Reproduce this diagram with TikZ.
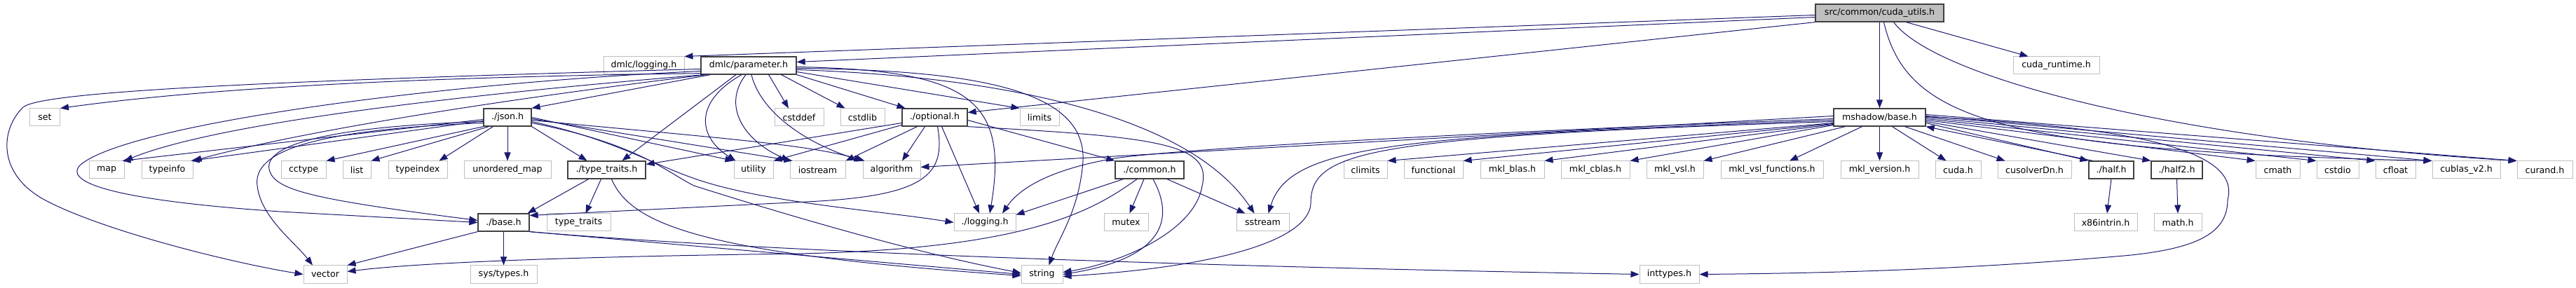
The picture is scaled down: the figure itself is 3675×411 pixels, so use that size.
\documentclass[tikz,border=0pt]{standalone}
\usepackage{fontspec}
\setmainfont{DejaVu Sans}
\usepackage{xcolor}
\usepackage{tikz}
\usetikzlibrary{arrows.meta}
\definecolor{dxEdge}{RGB}{25,25,112}
\definecolor{dxGray}{RGB}{191,191,191}
\definecolor{dxDark}{RGB}{64,64,64}

\begin{document}
\begin{tikzpicture}[
  x=1pt, y=-1pt,
  font=\fontsize{12.6}{15}\selectfont,
  sb/.style={draw=dxGray, line width=1pt, fill=white, minimum height=25pt, inner sep=1pt},
  ib/.style={sb, draw=dxDark, line width=1.3pt},
  rb/.style={ib, fill=dxGray},
  ar/.style={-{Triangle[length=12pt,width=9pt]}, draw=dxEdge, line width=1pt}
]
\useasboundingbox (0,0) rectangle (3675,411);

\node[rb, minimum width=183pt] (cu) at (2681.5,18.5) {src/common/cuda\_utils.h};
\foreach \nm/\cx/\bw/\cy/\lb in {param/1068/136/93.5/{dmlc/parameter.h},
    json/724/68/167.5/{./json.h}, optional/1333.5/93/167.5/{./optional.h},
    mshadow/2681.5/131/167.5/{mshadow/base.h}, tth/865.5/111/242.5/{./type\_traits.h},
    common/1640/98/242.5/{./common.h}, half/3012/64/242.5/{./half.h},
    half2/3105.5/73/242.5/{./half2.h}, dbase/718.5/73/317.5/{./base.h}}
  \node[ib, minimum width=\bw pt] (\nm) at (\cx,\cy) {\lb};
\foreach \nm/\cx/\bw/\cy/\lb in {dlog/918.5/115/93.5/{dmlc/logging.h},
    cudart/2933.5/123/93.5/{cuda\_runtime.h}, set/64/43/167.5/set,
    cstddef/1140/70/167.5/cstddef, cstdlib/1230.5/63/167.5/cstdlib,
    limits/1483/56/167.5/limits, map/152/50/242.5/map, typeinfo/238.5/73/242.5/typeinfo,
    cctype/433/64/242.5/cctype, list/509/40/242.5/list, typeindex/596/84/242.5/typeindex,
    umap/724/124/242.5/{unordered\_map}, utility/1075/56/242.5/utility,
    iostream/1166.5/79/242.5/iostream, algorithm/1272/82/242.5/algorithm,
    climits/1948/62/242.5/climits, functional/2045/84/242.5/functional,
    mklblas/2157.5/91/242.5/{mkl\_blas.h}, mklcblas/2276/98/242.5/{mkl\_cblas.h},
    mklvsl/2389.5/81/242.5/{mkl\_vsl.h}, mklvslf/2528/146/242.5/{mkl\_vsl\_functions.h},
    mklver/2681.5/111/242.5/{mkl\_version.h}, cuda/2793.5/65/242.5/{cuda.h},
    cusolver/2902.5/105/242.5/{cusolverDn.h}, cmath/3249.5/63/242.5/cmath,
    cstdio/3335/60/242.5/cstdio, cfloat/3417.5/57/242.5/cfloat,
    cublas/3518.5/97/242.5/{cublas\_v2.h}, curand/3630.5/79/242.5/{curand.h},
    tt/825.5/91/317.5/{type\_traits}, logging/1405/88/317.5/{./logging.h},
    mutex/1606.5/63/317.5/mutex, sstream/1801.5/75/317.5/sstream,
    x86/3004/90/317.5/{x86intrin.h}, mathh/3107/68/317.5/{math.h},
    vector/464/62/391.5/vector, systypes/718.5/95/391.5/{sys/types.h},
    string/1486.5/59/391.5/string, inttypes/2381.5/85/391.5/{inttypes.h}}
  \node[sb, minimum width=\bw pt] (\nm) at (\cx,\cy) {\lb};

% cuda_utils.h
\draw[ar] ([yshift=-3pt]cu.west) -- (dlog.north east);
\draw[ar] ([yshift=-6pt]cu.west) -- ([yshift=5pt]param.east);
\draw[ar] (cu.south west) -- ([yshift=7pt]optional.east);
\draw[ar] (cu.south) -- (mshadow.north);
\draw[ar] ([xshift=38pt]cu.south) -- ([xshift=-40pt]cudart.north);
\draw[ar] ([xshift=6pt]cu.south) .. controls (2720,170) and (2850,215) .. (cublas.north west);
\draw[ar] ([xshift=20pt]cu.south) .. controls (2760,110) and (3100,200) .. (curand.north west);

% dmlc/parameter.h
\draw[ar] ([yshift=2pt]param.south west) .. controls (600,110) and (300,125) .. (set.north east);
\draw[ar] ([xshift=4pt]param.south west) .. controls (600,140) and (300,180) .. (map.north east);
\draw[ar] ([xshift=8pt]param.south west) .. controls (650,150) and (400,195) .. (typeinfo.north east);
\draw[ar] ([xshift=14pt]param.south west) -- (json.north east);
\draw[ar] ([yshift=-5pt]param.west) .. controls (400,115) and (60,130) .. (33,153)
  .. controls (0,185) and (-5,250) .. (67,287) .. controls (150,330) and (330,375) .. (vector.west);
\draw[ar] ([yshift=-8pt]param.west) .. controls (600,120) and (180,180) .. (115,235)
  .. controls (90,258) and (150,285) .. (400,302) -- (dbase.west);
\draw[ar] ([xshift=-18pt]param.south) -- ([xshift=22pt]tth.north);
\draw[ar] ([xshift=-10pt]param.south) .. controls (990,145) and (995,195) .. ([xshift=3pt]utility.north west);
\draw[ar] ([xshift=-4pt]param.south) .. controls (1030,150) and (1060,200) .. (iostream.north west);
\draw[ar] ([xshift=4pt]param.south) .. controls (1085,160) and (1150,205) .. (algorithm.north west);
\draw[ar] ([xshift=-40pt]param.south east) -- ([xshift=-15pt]cstddef.north);
\draw[ar] ([xshift=-22pt]param.south east) -- ([xshift=-25pt]cstdlib.north);
\draw[ar] (param.south east) -- ([xshift=-42pt]optional.north);
\draw[ar] ([yshift=-9pt]param.east) -- (limits.north west);
\draw[ar] ([yshift=-2pt]param.east) .. controls (1380,100) and (1440,140) .. ([xshift=7pt]logging.north);
\draw[ar] ([yshift=-4pt]param.east) .. controls (1400,100) and (1550,130) .. (1545,230)
  .. controls (1540,300) and (1510,340) .. ([xshift=10pt]string.north);
\draw[ar] ([yshift=-6pt]param.east) .. controls (1450,110) and (1700,170) .. ([xshift=-12pt]sstream.north);

% ./json.h
\draw[ar] (json.south west) -- (cctype.north east);
\draw[ar] ([xshift=8pt]json.south west) -- (list.north east);
\draw[ar] ([xshift=14pt]json.south west) -- ([xshift=-12pt]typeindex.north east);
\draw[ar] (json.south) -- (umap.north);
\draw[ar] ([yshift=-3pt]json.west) -- ([xshift=-3pt]map.north east);
\draw[ar] ([yshift=-5pt]json.west) -- ([xshift=-3pt]typeinfo.north east);
\draw[ar] ([yshift=-8pt]json.west) .. controls (450,185) and (360,215) .. (367,265)
  .. controls (372,310) and (420,345) .. ([xshift=-18pt]vector.north);
\draw[ar] ([yshift=-6pt]json.west) .. controls (480,180) and (370,205) .. (385,245)
  .. controls (395,272) and (450,285) .. ([yshift=3pt]dbase.west);
\draw[ar] (json.south east) -- ([xshift=-28pt]tth.north);
\draw[ar] (json.east) -- (utility.north west);
\draw[ar] ([yshift=-2pt]json.east) -- ([xshift=4pt]iostream.north west);
\draw[ar] ([yshift=-4pt]json.east) .. controls (1000,195) and (1150,205) .. ([xshift=3pt]algorithm.north west);
\draw[ar] ([yshift=-6pt]json.east) .. controls (880,200) and (930,235) .. (1000,258)
  .. controls (1100,290) and (1250,300) .. (logging.west);
\draw[ar] ([yshift=-8pt]json.east) .. controls (910,205) and (950,245) .. (990,265)
  .. controls (1100,300) and (1300,360) .. ([yshift=2pt]string.west);

% ./type_traits.h and ./base.h
\draw[ar] ([xshift=-26pt]tth.south) -- ([xshift=-3pt]dbase.north east);
\draw[ar] ([xshift=-8pt]tth.south) -- ([xshift=10pt]tt.north);
\draw[ar] ([xshift=7pt]tth.south) .. controls (900,320) and (1000,362) .. ([yshift=-2pt]string.west);
\draw[ar] (dbase.south) -- (systypes.north);
\draw[ar] (dbase.south west) -- (vector.north east);
\draw[ar] (dbase.south east) -- (string.west);
\draw[ar] (dbase.south east) .. controls (1100,360) and (1700,380) .. (inttypes.west);

% ./common.h
\draw[ar] ([xshift=-8pt]common.south) -- ([xshift=5pt]mutex.north);
\draw[ar] ([xshift=25pt]common.south) -- ([xshift=-25pt]sstream.north);
\draw[ar] ([xshift=12pt]common.south west) -- ([yshift=-2pt]logging.north east);
\draw[ar] ([xshift=-18pt]common.south) .. controls (1560,300) and (1470,355) .. (1140,362)
  .. controls (900,365) and (620,372) .. ([yshift=4pt]vector.east);
\draw[ar] ([xshift=5pt]common.south) .. controls (1680,320) and (1650,370) .. (string.east);

% ./optional.h
\draw[ar] ([yshift=-4pt]optional.east) -- (common.north west);
\draw[ar] (optional.south east) .. controls (1650,195) and (1730,205) .. (1715,265)
  .. controls (1705,330) and (1600,375) .. ([yshift=3pt]string.east);
\draw[ar] ([xshift=4pt]optional.south) .. controls (1350,250) and (1320,280) .. (1150,288)
  -- ([yshift=10pt]dbase.east);
\draw[ar] ([yshift=-8pt]optional.west) -- ([yshift=8pt]tth.east);
\draw[ar] ([yshift=-11pt]optional.west) -- (utility.north east);
\draw[ar] ([xshift=-25pt]optional.south) -- (iostream.north east);
\draw[ar] ([xshift=-14pt]optional.south) -- ([xshift=15pt]algorithm.north);
\draw[ar] ([xshift=10pt]optional.south) -- ([xshift=-8pt]logging.north);

% mshadow/base.h
\draw[ar] ([yshift=2pt]mshadow.west) -- ([yshift=4pt]algorithm.east);
\draw[ar] ([yshift=-2pt]mshadow.west) .. controls (2200,185) and (1700,210) .. (1590,226)
  .. controls (1520,238) and (1460,260) .. ([xshift=25pt]logging.north);
\draw[ar] ([yshift=-4pt]mshadow.west) .. controls (2000,195) and (1840,205) .. ([xshift=8pt]sstream.north);
\draw[ar] ([yshift=-6pt]mshadow.west) .. controls (1950,195) and (1870,215) .. (1870,290)
  .. controls (1868,340) and (1750,380) .. ([yshift=-3pt]string.east);
\draw[ar] ([yshift=-8pt]mshadow.west) -- (climits.north east);
\draw[ar] ([yshift=-9pt]mshadow.west) -- (functional.north east);
\draw[ar] ([yshift=-10pt]mshadow.west) -- (mklblas.north east);
\draw[ar] ([yshift=-11pt]mshadow.west) -- (mklcblas.north east);
\draw[ar] ([xshift=17pt]mshadow.south west) -- (mklvsl.north east);
\draw[ar] ([xshift=-25pt]mshadow.south) -- ([xshift=25pt]mklvslf.north);
\draw[ar] (mshadow.south) -- (mklver.north);
\draw[ar] ([xshift=18pt]mshadow.south) -- ([xshift=-17pt]cuda.north);
\draw[ar] ([xshift=36pt]mshadow.south) -- ([xshift=-42pt]cusolver.north);
\draw[ar] ([yshift=-8pt]mshadow.east) -- (half.north west);
\draw[ar] ([xshift=6pt]half.north west) -- (mshadow.south east);
\draw[ar] ([yshift=-6pt]mshadow.east) -- (half2.north west);
\draw[ar] ([yshift=-4pt]mshadow.east) -- (cmath.north west);
\draw[ar] ([yshift=-2pt]mshadow.east) -- (cstdio.north west);
\draw[ar] (mshadow.east) -- (cfloat.north west);
\draw[ar] ([yshift=2pt]mshadow.east) -- (cublas.north west);
\draw[ar] ([yshift=4pt]mshadow.east) -- (curand.north west);
\draw[ar] ([yshift=1pt]mshadow.east) .. controls (3000,180) and (3200,205) .. (3178,285)
  .. controls (3178,330) and (3140,355) .. (3030,365)
  .. controls (2800,385) and (2600,390) .. (inttypes.east);

% ./half.h and ./half2.h
\draw[ar] (half.south) -- ([xshift=2pt]x86.north);
\draw[ar] (half2.south) -- (mathh.north);
\end{tikzpicture}
\end{document}
